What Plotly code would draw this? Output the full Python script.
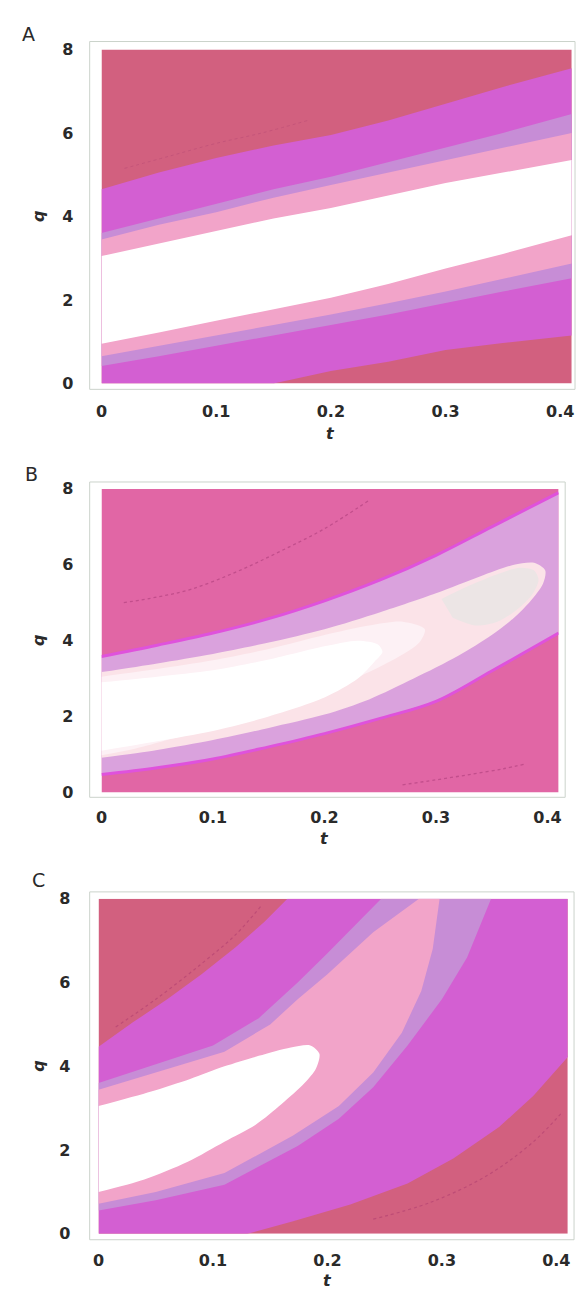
import plotly.graph_objects as go

W, H = 580, 1300

# ---------------- data ----------------
T_RANGE = [0, 0.41]
Q_RANGE = [0, 8]
X_TICKS = [0, 0.1, 0.2, 0.3, 0.4]
X_TICK_TEXT = ["0", "0.1", "0.2", "0.3", "0.4"]
Y_TICKS = [0, 2, 4, 6, 8]
Y_TICK_TEXT = ["0", "2", "4", "6", "8"]
PANEL_LABELS = ["A", "B", "C"]

# Panel A: straight bands, boundaries sampled at A_T
A_T = [0, 0.05, 0.1, 0.15, 0.2, 0.25, 0.3, 0.35, 0.41]
A_DARK_UP = [4.65, 5.05, 5.4, 5.7, 5.95, 6.3, 6.7, 7.1, 7.55]
A_MAG_UP = [3.6, 3.95, 4.3, 4.65, 4.95, 5.3, 5.65, 6.0, 6.45]
A_LAV_UP = [3.45, 3.8, 4.1, 4.45, 4.75, 5.05, 5.35, 5.65, 6.0]
A_PINK_UP = [3.05, 3.35, 3.65, 3.95, 4.2, 4.5, 4.8, 5.05, 5.35]
A_PINK_LO = [0.95, 1.22, 1.5, 1.78, 2.05, 2.38, 2.75, 3.1, 3.55]
A_LAV_LO = [0.65, 0.9, 1.15, 1.4, 1.65, 1.92, 2.2, 2.5, 2.87]
A_MAG_LO = [0.42, 0.65, 0.9, 1.15, 1.4, 1.65, 1.92, 2.2, 2.52]
A_DARK_LO = [0, 0, 0, 0, 0.3, 0.52, 0.8, 0.97, 1.15]
A_DASH_T = [0.02, 0.06, 0.1, 0.14, 0.18]
A_DASH_Q = [5.15, 5.45, 5.75, 6.0, 6.3]

# Panel B
B_T = [0, 0.05, 0.1, 0.15, 0.2, 0.25, 0.3, 0.35, 0.41]
B_OUT_UP = [3.58, 3.88, 4.2, 4.58, 5.05, 5.6, 6.25, 7.0, 7.9]
B_OUT_LO = [0.47, 0.65, 0.88, 1.2, 1.55, 1.95, 2.4, 3.2, 4.2]
B_IN_T = [0, 0.05, 0.1, 0.15, 0.2, 0.25, 0.3, 0.34, 0.37, 0.388, 0.398, 0.396,
          0.385, 0.37, 0.35, 0.32, 0.28, 0.24, 0.2, 0.15, 0.1, 0.05, 0]
B_IN_Q = [3.17, 3.4, 3.65, 3.95, 4.3, 4.75, 5.25, 5.7, 6.0, 6.05, 5.85, 5.5,
          5.05, 4.6, 4.15, 3.6, 3.0, 2.45, 2.05, 1.7, 1.38, 1.12, 0.91]
B_TIP_T = [0.305, 0.33, 0.355, 0.375, 0.388, 0.392, 0.386, 0.372, 0.355, 0.335, 0.315]
B_TIP_Q = [5.1, 5.45, 5.75, 5.92, 5.85, 5.6, 5.2, 4.8, 4.5, 4.4, 4.6]
B_MID_T = [0, 0.05, 0.1, 0.15, 0.2, 0.24, 0.27, 0.29, 0.285, 0.265, 0.22, 0.18,
           0.13, 0.08, 0.03, 0]
B_MID_Q = [3.05, 3.25, 3.48, 3.78, 4.15, 4.4, 4.5, 4.3, 3.95, 3.55, 2.9, 2.4,
           1.95, 1.55, 1.15, 0.98]
B_WHITE_T = [0, 0.05, 0.1, 0.15, 0.2, 0.23, 0.248, 0.252, 0.245, 0.23, 0.2, 0.15,
             0.1, 0.05, 0]
B_WHITE_Q = [2.9, 3.05, 3.22, 3.5, 3.85, 4.0, 3.9, 3.7, 3.45, 3.0, 2.5, 2.0,
             1.62, 1.35, 1.1]
B_DASH1_T = [0.02, 0.05, 0.08, 0.12, 0.16, 0.2, 0.24]
B_DASH1_Q = [5.0, 5.15, 5.35, 5.8, 6.35, 6.95, 7.7]
B_DASH2_T = [0.27, 0.3, 0.33, 0.36, 0.38]
B_DASH2_Q = [0.2, 0.33, 0.47, 0.62, 0.75]

# Panel C
C_DARK1_T = [0, 0.03, 0.06, 0.09, 0.12, 0.145, 0.165]
C_DARK1_Q = [4.47, 5.05, 5.6, 6.2, 6.85, 7.45, 8.0]
C_DARK2_T = [0.411, 0.38, 0.35, 0.31, 0.27, 0.22, 0.17, 0.13]
C_DARK2_Q = [4.25, 3.3, 2.55, 1.8, 1.2, 0.7, 0.3, 0.0]
C_LAV1_T = [0, 0.05, 0.1, 0.14, 0.174, 0.2, 0.225, 0.247]
C_LAV1_Q = [3.6, 4.05, 4.5, 5.15, 6.0, 6.7, 7.4, 8.0]
C_LAV2_T = [0.343, 0.322, 0.3, 0.27, 0.24, 0.21, 0.174, 0.11, 0.05, 0]
C_LAV2_Q = [8.0, 6.6, 5.6, 4.5, 3.5, 2.75, 2.1, 1.17, 0.8, 0.56]
C_PINK1_T = [0, 0.05, 0.11, 0.15, 0.174, 0.2, 0.24, 0.28]
C_PINK1_Q = [3.44, 3.85, 4.35, 5.0, 5.6, 6.2, 7.2, 8.0]
C_PINK2_T = [0.298, 0.292, 0.282, 0.265, 0.24, 0.21, 0.17, 0.11, 0.05, 0]
C_PINK2_Q = [8.0, 6.8, 5.8, 4.8, 3.85, 3.05, 2.35, 1.45, 1.0, 0.72]
C_WHITE_T = [0, 0.046, 0.08, 0.11, 0.14, 0.168, 0.185, 0.193, 0.19, 0.18, 0.16,
             0.137, 0.11, 0.078, 0.04, 0]
C_WHITE_Q = [3.05, 3.4, 3.7, 4.0, 4.25, 4.45, 4.5, 4.3, 3.95, 3.6, 3.1, 2.6, 2.2,
             1.72, 1.3, 1.0]
C_DASH1_T = [0.015, 0.05, 0.09, 0.12, 0.142]
C_DASH1_Q = [4.94, 5.6, 6.45, 7.15, 7.83]
C_DASH2_T = [0.24, 0.29, 0.34, 0.38, 0.405]
C_DASH2_Q = [0.35, 0.75, 1.4, 2.2, 2.9]

# ---------------- styling ----------------
DARK = "#D2607F"
MAG = "#D35FD2"
LAV = "#C78DD6"
PINK = "#F2A4C9"
WHITE = "#FFFFFF"
B_BASE = "#E166A5"
B_LAV = "#DAA2DD"
B_RIM = "#DF52DC"
B_PEACH = "#FBE3E8"
B_TIP = "#ECE5E5"
B_MID = "#FDF1F5"
FRAME = "#CBD3CB"
TEXT = "#2a2a2a"
FONT = "DejaVu Sans"

# pixel geometry of the three panels: (x0, x1, y0, y1) of the data area
PANELS = [
    (97, 97 + 0.41 * 1165, 41, 380),
    (97, 97 + 0.41 * 1132.5, 487, 795),
    (94, 94 + 0.41 * 1162.5, 903, 1243),
]
FRAMES = [(85, 578, 33, 386), (85, 568, 480, 800), (85, 577, 896, 1249)]
X_TICKLEN = [13, 10, 12]
T_LABEL_Y = [431, 842, 1290]
LETTERS = [(23, 25), (26, 472), (33, 884)]


def px(x):
    return x / W


def py(y):
    return 1 - y / H


fig = go.Figure()


def poly(i, xs, ys, color, smooth=False):
    ax = "" if i == 0 else str(i + 1)
    ln = dict(width=0, color=color)
    if smooth:
        ln.update(shape="spline", smoothing=0.8)
    fig.add_trace(go.Scatter(x=xs, y=ys, mode="lines", fill="toself",
                             fillcolor=color, line=ln,
                             hoverinfo="skip", showlegend=False,
                             xaxis="x" + ax, yaxis="y" + ax))


def line(i, xs, ys, color, width, dash="solid"):
    ax = "" if i == 0 else str(i + 1)
    fig.add_trace(go.Scatter(x=xs, y=ys, mode="lines",
                             line=dict(width=width, color=color, dash=dash, shape="spline"),
                             hoverinfo="skip", showlegend=False,
                             xaxis="x" + ax, yaxis="y" + ax))


def band(t, up, lo):
    return list(t) + list(t)[::-1], list(up) + list(lo)[::-1]


rect_t = [T_RANGE[0], T_RANGE[1], T_RANGE[1], T_RANGE[0]]
rect_q = [Q_RANGE[0], Q_RANGE[0], Q_RANGE[1], Q_RANGE[1]]

# ---- Panel A ----
poly(0, rect_t, rect_q, DARK)
for up, lo, col in [(A_DARK_UP, A_DARK_LO, MAG), (A_MAG_UP, A_MAG_LO, LAV),
                    (A_LAV_UP, A_LAV_LO, PINK), (A_PINK_UP, A_PINK_LO, WHITE)]:
    xs, ys = band(A_T, up, lo)
    poly(0, xs, ys, col)
line(0, A_DASH_T, A_DASH_Q, "#C4557A", 1.0, "dot")

# ---- Panel B ----
poly(1, rect_t, rect_q, B_BASE)
xs, ys = band(B_T, B_OUT_UP, B_OUT_LO)
poly(1, xs, ys, B_LAV)
line(1, B_T, B_OUT_UP, B_RIM, 3)
line(1, B_T, B_OUT_LO, B_RIM, 3)
poly(1, B_IN_T, B_IN_Q, B_PEACH, True)
poly(1, B_TIP_T, B_TIP_Q, B_TIP, True)
poly(1, B_MID_T, B_MID_Q, B_MID, True)
poly(1, B_WHITE_T, B_WHITE_Q, WHITE, True)
line(1, B_DASH1_T, B_DASH1_Q, "#C24E8C", 1.3, "dot")
line(1, B_DASH2_T, B_DASH2_Q, "#C24E8C", 1.3, "dot")

# ---- Panel C ----
poly(2, rect_t, rect_q, DARK)
mag_t = C_DARK1_T + [T_RANGE[1], T_RANGE[1]] + C_DARK2_T + [T_RANGE[0]]
mag_q = C_DARK1_Q + [Q_RANGE[1], C_DARK2_Q[0]] + C_DARK2_Q + [Q_RANGE[0]]
poly(2, mag_t, mag_q, MAG)
poly(2, C_LAV1_T + C_LAV2_T, C_LAV1_Q + C_LAV2_Q, LAV)
poly(2, C_PINK1_T + C_PINK2_T, C_PINK1_Q + C_PINK2_Q, PINK)
poly(2, C_WHITE_T, C_WHITE_Q, WHITE, True)
line(2, C_DASH1_T, C_DASH1_Q, "#BE4C76", 1.2, "dot")
line(2, C_DASH2_T, C_DASH2_Q, "#BE4C76", 1.2, "dot")

# ---------------- layout ----------------
tickfont = dict(family=FONT, size=16, color=TEXT, weight="bold")
layout = dict(width=W, height=H, autosize=False,
              margin=dict(l=0, r=0, t=0, b=0),
              paper_bgcolor="white", plot_bgcolor="white",
              showlegend=False, shapes=[], annotations=[])

for i, (x0, x1, y0, y1) in enumerate(PANELS):
    sfx = "" if i == 0 else str(i + 1)
    layout["xaxis" + sfx] = dict(
        domain=[px(x0), px(x1)], range=T_RANGE, anchor="y" + sfx,
        tickvals=X_TICKS, ticktext=X_TICK_TEXT, ticks="outside",
        ticklen=X_TICKLEN[i],
        tickcolor="rgba(0,0,0,0)", showgrid=False, zeroline=False,
        showline=False, tickfont=tickfont, fixedrange=True)
    layout["yaxis" + sfx] = dict(
        domain=[py(y1), py(y0)], range=Q_RANGE, anchor="x" + sfx,
        tickvals=Y_TICKS, ticktext=Y_TICK_TEXT, ticks="outside", ticklen=24,
        tickcolor="rgba(0,0,0,0)", showgrid=False, zeroline=False,
        showline=False, tickfont=tickfont, fixedrange=True)
    fx0, fx1, fy0, fy1 = FRAMES[i]
    layout["shapes"].append(dict(type="rect", xref="paper", yref="paper",
                                 x0=px(fx0), x1=px(fx1), y0=py(fy1), y1=py(fy0),
                                 line=dict(color=FRAME, width=1), layer="below"))
    layout["annotations"].append(dict(
        text="<i>q</i>", xref="paper", yref="paper", x=px(33), y=py((y0 + y1) / 2),
        xanchor="center", yanchor="middle", showarrow=False, textangle=-90,
        font=dict(family=FONT, size=16, color=TEXT, weight="bold")))
    x_mid = x0 + 0.2 * (x1 - x0) / T_RANGE[1]
    layout["annotations"].append(dict(
        text="<i>t</i>", xref="paper", yref="paper", x=px(x_mid), y=py(T_LABEL_Y[i]),
        xanchor="center", yanchor="middle", showarrow=False,
        font=dict(family=FONT, size=16, color=TEXT, weight="bold")))

for i, (lx, ly) in enumerate(LETTERS):
    layout["annotations"].append(dict(
        text=PANEL_LABELS[i], xref="paper", yref="paper", x=px(lx), y=py(ly),
        xanchor="center", yanchor="middle", showarrow=False,
        font=dict(family=FONT, size=19, color=TEXT)))

fig.update_layout(**layout)
fig.write_html("out.html")
